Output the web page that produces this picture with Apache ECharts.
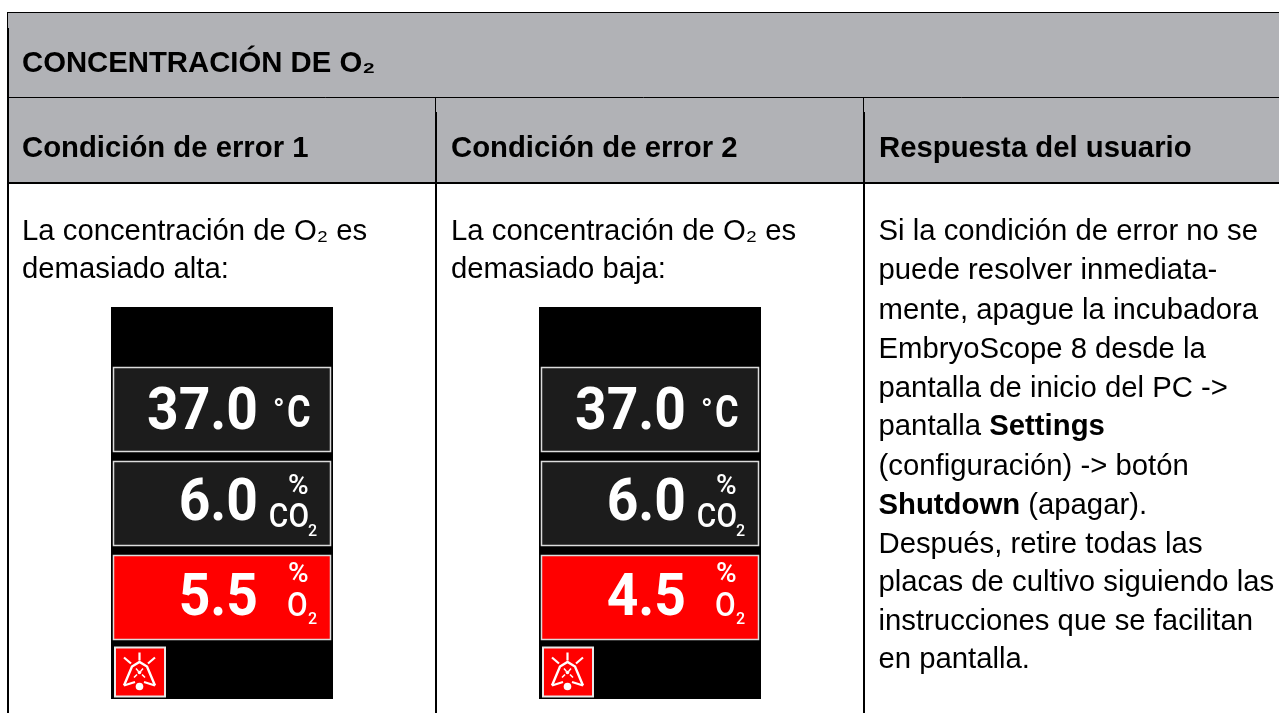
<!DOCTYPE html>
<html><head><meta charset="utf-8">
<style>html,body{margin:0;padding:0;background:#fff}#c{width:1279px;height:713px}</style>
<script src="https://cdn.jsdelivr.net/npm/echarts@6/dist/echarts.min.js"></script>
</head><body><div id="c"></div>
<script>
const title = 'CONCENTRACIÓN DE O₂';
const headers = ['Condición de error 1', 'Condición de error 2', 'Respuesta del usuario'];
const intro1 = ['La concentración de O₂ es', 'demasiado alta:'];
const intro2 = ['La concentración de O₂ es', 'demasiado baja:'];
const response = [
  ['Si la condición de error no se', 231.5],
  ['puede resolver inmediata-', 270.5],
  ['mente, apague la incubadora', 310.5],
  ['EmbryoScope 8 desde la', 349.5],
  ['pantalla de inicio del PC ->', 389],
  ['pantalla {b|Settings}', 427],
  ['(configuración) -> botón', 466.5],
  ['{b|Shutdown} (apagar).', 505.5],
  ['Después, retire todas las', 544.5],
  ['placas de cultivo siguiendo las', 583],
  ['instrucciones que se facilitan', 621.5],
  ['en pantalla.', 659.5]
];
const temperature = ['37.0', '37.0'];
const co2 = ['6.0', '6.0'];
const o2 = ['5.5', '4.5'];

const ARIAL = '"Liberation Sans", Arial, sans-serif';
const DIN = 'Roboto, sans-serif';
const BODY = 29.3;
const els = [];
const rect = (x, y, w, h, fill, stroke, lw) => els.push({type:'rect', shape:{x, y, width:w, height:h}, style:{fill, stroke:stroke||null, lineWidth:lw||0}, silent:true});
const line = (x1, y1, x2, y2, lw, col) => els.push({type:'line', shape:{x1, y1, x2, y2}, style:{stroke:col||'#000', lineWidth:lw, lineCap:'butt'}, silent:true});
const text = (t, x, y, size, opt, sx) => els.push({type:'text', x, y, scaleX:sx||1, style:Object.assign({text:t, fontFamily:ARIAL, fontSize:size, fill:'#000', textAlign:'left', textVerticalAlign:'middle'}, opt||{}), silent:true});

// header background
rect(8, 12, 1271, 171, '#b1b2b6');
line(7, 12.5, 1279, 12.5, 1);
line(7.5, 12, 7.5, 28, 1);
line(8, 28, 8, 713, 2);
line(8, 97.5, 1279, 97.5, 1);
line(8, 183, 1279, 183, 2);
[436, 864].forEach(x => {
  line(x - .5, 97, x - .5, 112, 1);
  line(x, 112, x, 713, 2);
});

text(title, 22, 63.5, BODY, {fontWeight:'bold'});
[22, 451, 879].forEach((x, i) => text(headers[i], x, 148.5, BODY, {fontWeight:'bold'}));
[[22, intro1], [451, intro2]].forEach(([x, l]) => {
  text(l[0], x, 231.5, BODY);
  text(l[1], x, 270, BODY);
});
response.forEach(([t, y]) => text(t, 878.5, y, BODY, {rich:{b:{fontFamily:ARIAL, fontSize:BODY, fontWeight:'bold', fill:'#000'}}}));

function bell(ox, oy) {
  rect(ox, oy, 50, 49, '#ff0000', '#e8e8e8', 2);
  const L = (a, b, c, d, lw) => line(ox + a, oy + b, ox + c, oy + d, lw || 2.2, '#fff');
  L(24.5, 5, 24.5, 13);
  L(9, 10, 16, 16);
  L(40, 10, 33, 16);
  els.push({type:'polyline', shape:{points:[[ox+9,oy+38],[ox+17,oy+19],[ox+24.5,oy+14.5],[ox+32,oy+19],[ox+40,oy+38]]}, style:{stroke:'#fff', lineWidth:2.4, fill:null}, silent:true});
  L(9, 38, 20, 34.5); L(40, 38, 29, 34.5);
  L(19, 30, 22, 27, 1.6); L(30, 30, 27, 27, 1.6); L(21, 21, 23.5, 24, 1.4); L(28, 21, 25.5, 24, 1.4);
  els.push({type:'circle', shape:{cx:ox+24.5, cy:oy+39, r:3.8}, style:{fill:'#fff'}, silent:true});
  els.push({type:'circle', shape:{cx:ox+24.5, cy:oy+25, r:1.8}, style:{fill:'#fff'}, silent:true});
}

function panel(i, dx) {
  rect(111 + dx, 307, 222, 392, '#000');
  const box = (y, h, fill) => rect(113.5 + dx, y, 217, h, fill, '#dcdcdc', 1.5);
  box(367.5, 84, '#1c1c1c');
  box(461.5, 84, '#1c1c1c');
  box(555.5, 84, '#ff0000');
  const big = (t, y) => text(t, 258 + dx, y, 60, {fontFamily:DIN, fontWeight:'bold', fill:'#fff', textAlign:'right'}, 0.92);
  const small = (t, x, y, s, align, sx, w) => text(t, x + dx, y, s, {fontFamily:DIN, fontWeight:w || '500', fill:'#fff', textAlign:align || 'left'}, sx);
  big(temperature[i], 414);
  big(co2[i], 505);
  big(o2[i], 600);
  small('°', 273, 412, 30, 'left', 1, 'bold');
  small('C', 287, 416, 44, 'left', 0.82, 'bold');
  small('%', 288, 487, 28);
  small('CO', 309, 518, 34, 'right', 0.88);
  small('2', 308, 532, 16);
  small('%', 288, 575, 28);
  small('O', 287, 607, 34, 'left', 0.88);
  small('2', 308, 620, 16);
  bell(115 + dx, 647.5);
}
panel(0, 0);
panel(1, 428);

const chart = echarts.init(document.getElementById('c'), null, {renderer:'canvas'});
chart.setOption({animation:false, backgroundColor:'#fff', graphic:{elements:els}});
</script></body></html>
